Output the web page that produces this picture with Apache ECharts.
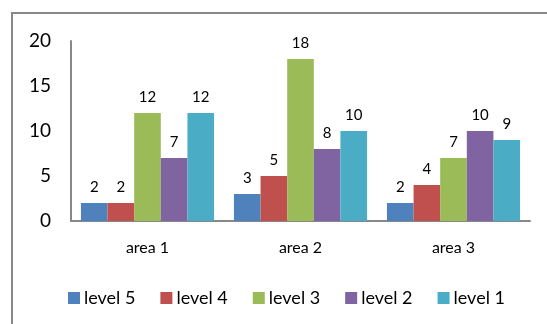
<!DOCTYPE html>
<html>
<head>
<meta charset="utf-8">
<title>ECharts</title>
<script src="https://cdn.jsdelivr.net/npm/echarts@6/dist/echarts.min.js"></script>
<style>
  html, body { margin: 0; padding: 0; background: #fff; }
</style>
</head>
<body>
<div id="main" style="width: 547px;height:324px;"></div>
<script type="text/javascript">
// categories and series
var categories = ['area 1', 'area 2', 'area 3'];
var seriesNames = ['level 5', 'level 4', 'level 3', 'level 2', 'level 1'];
var level5 = [2, 3, 2];
var level4 = [2, 5, 4];
var level3 = [12, 18, 7];
var level2 = [7, 8, 10];
var level1 = [12, 10, 9];
var yTicks = [0, 5, 10, 15, 20];

var colors = ['#4F81BD', '#C0504D', '#9BBB59', '#8064A2', '#4BACC6'];
var allData = [level5, level4, level3, level2, level1];
var font = 'Lato, "Open Sans", sans-serif';

var myChart = echarts.init(document.getElementById('main'));

var series = seriesNames.map(function (name, i) {
  return {
    name: name,
    type: 'bar',
    data: allData[i],
    barGap: '0%',
    barCategoryGap: '13%',
    itemStyle: { color: colors[i] },
    label: {
      show: true,
      position: 'top',
      distance: 8,
      color: '#000',
      fontFamily: font,
      fontSize: 15
    }
  };
});

myChart.setOption({
  animation: false,
  color: colors,
  graphic: [{
    type: 'rect',
    shape: { x: 12, y: 13, width: 560, height: 340 },
    style: { fill: 'none', stroke: '#888', lineWidth: 2 },
    z: -1
  }],
  grid: { left: 71, right: 17, top: 41, bottom: 103 },
  legend: {
    data: seriesNames,
    top: 284,
    left: 63,
    itemWidth: 12,
    itemHeight: 12,
    itemGap: 25,
    icon: 'rect',
    textStyle: { fontFamily: font, fontSize: 18, color: '#000', padding: [0, 0, 0, -1] }
  },
  xAxis: {
    type: 'category',
    data: categories,
    axisLine: { lineStyle: { color: '#888', width: 2 } },
    axisTick: { show: false },
    axisLabel: { color: '#000', fontFamily: font, fontSize: 16, margin: 19 }
  },
  yAxis: {
    type: 'value',
    min: yTicks[0],
    max: yTicks[yTicks.length - 1],
    interval: 5,
    axisLine: { show: true, lineStyle: { color: '#888', width: 2 } },
    axisTick: { show: false },
    splitLine: { show: false },
    axisLabel: { color: '#000', fontFamily: font, fontSize: 19, margin: 20 }
  },
  series: series
});
</script>
</body>
</html>
